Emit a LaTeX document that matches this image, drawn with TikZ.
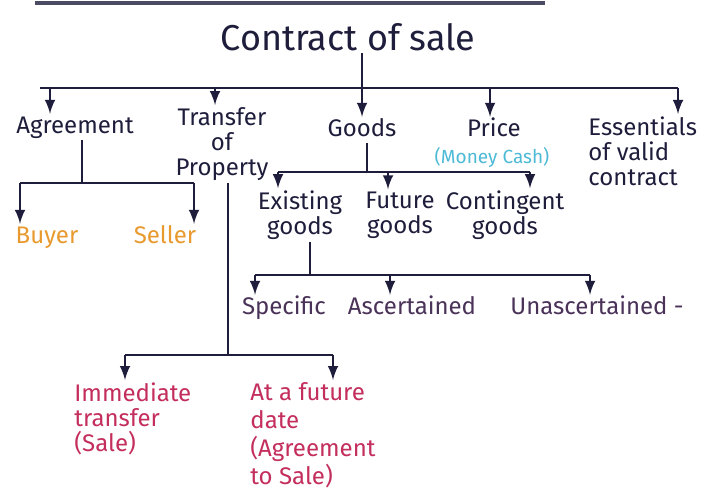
\documentclass[tikz,border=0pt]{standalone}
\usepackage{fontspec}
\setmainfont{Fira Sans}
\usepackage{xcolor}
\definecolor{ink}{HTML}{1E1E3C}
\definecolor{buyorange}{HTML}{E89A2E}
\definecolor{cashcyan}{HTML}{4DBAD6}
\definecolor{subpurple}{HTML}{4A3258}
\definecolor{salepink}{HTML}{C42E5C}

\tikzset{
  lbl/.style={align=center, inner sep=1pt, text=ink, font=\fontsize{12}{12.5}\selectfont},
  oneline/.style={text height=1.6ex, text depth=0.45ex},
  lline/.style={line width=1.4pt, draw=ink},
  larrow/.style={line width=1.4pt, draw=ink, >=latex, ->},
}

\begin{document}
\begin{tikzpicture}[x=0.5pt, y=-0.5pt]
\useasboundingbox (0,0) rectangle (704,497);
\fill[white] (0,0) rectangle (704,497);

% page edge at the top
\draw[line width=2pt, draw=ink!80] (35,3) -- (545,3);

% root
\node[lbl, font=\fontsize{18}{20}\selectfont] (cos) at (348,37) {Contract of sale};

\node[lbl, oneline] (agr) at (75,127) {Agreement};
\node[lbl] (tr) at (222,144) {Transfer\\of\\Property};
\node[lbl, oneline] (gds) at (362,130) {Goods};
\node[lbl, oneline] (prc) at (494,130) {Price};
\node[lbl, text=cashcyan, font=\fontsize{9.5}{10}\selectfont] (mny) at (492,157) {(Money Cash)};
\node[lbl, align=left, anchor=north west] (ess) at (586,114) {Essentials\\of valid\\contract};

\coordinate (a0) at (40,88);
\coordinate (a1) at (50,88);
\coordinate (t1) at (215,88);
\coordinate (c0) at (362,88);
\coordinate (p1) at (490,88);
\coordinate (e1) at (678,88);

\draw[lline] (a0) -- (e1);
\draw[larrow] (c0 |- cos.south) -- (c0 |- gds.north);
\draw[larrow] (a1) -- (a1 |- agr.north);
\draw[larrow] (t1) -- (t1 |- tr.north);
\draw[larrow] (p1) -- (p1 |- prc.north);
\draw[larrow] (e1) -- (e1 |- ess.north);

% agreement
\node[lbl, oneline, text=buyorange] (buy) at (47,237) {Buyer};
\node[lbl, oneline, text=buyorange] (sel) at (165,237) {Seller};
\coordinate (b0) at (20,183);
\coordinate (b1) at (82,183);
\coordinate (b2) at (194,183);
\draw[lline] (b1 |- agr.south) -- (b1);
\draw[lline] (b0) -- (b2);
\draw[larrow] (b0) -- (b0 |- buy.north);
\draw[larrow] (b2) -- (b2 |- sel.north);

% goods
\node[lbl] (exi) at (300,215) {Existing\\goods};
\node[lbl] (fut) at (400,215) {Future\\goods};
\node[lbl] (con) at (505,215) {Contingent\\goods};
\coordinate (f0) at (367,172);
\coordinate (f1) at (278,172);
\coordinate (f2) at (388,172);
\coordinate (f3) at (530,172);
\draw[lline] (f0 |- gds.south) -- (f0);
\draw[lline] (f1) -- (f3);
\draw[larrow] (f1) -- (f1 |- exi.north);
\draw[larrow] (f2) -- (f2 |- fut.north);
\draw[larrow] (f3) -- (f3 |- con.north);

\node[lbl, oneline, text=subpurple] (spe) at (284,308) {Specific};
\node[lbl, oneline, text=subpurple] (asc) at (412,308) {Ascertained};
\node[lbl, oneline, text=subpurple] (una) at (597,308) {Unascertained -};
\coordinate (h0) at (310,275);
\coordinate (h1) at (255,275);
\coordinate (h2) at (390,275);
\coordinate (h3) at (590,275);
\draw[lline] (h0 |- exi.south) -- (h0);
\draw[lline] (h1) -- (h3);
\draw[larrow] (h1) -- (h1 |- spe.north);
\draw[larrow] (h2) -- (h2 |- asc.north);
\draw[larrow] (h3) -- (h3 |- una.north);

% transfer of property
\node[lbl, text=salepink, align=left, anchor=north west] (imm) at (72,380) {Immediate\\transfer\\(Sale)};
\node[lbl, text=salepink, align=left, anchor=north west, font=\fontsize{12}{14}\selectfont] (atf) at (248,380) {At a future\\date\\(Agreement\\to Sale)};
\coordinate (d0) at (228,355);
\coordinate (d1) at (125,355);
\coordinate (d2) at (333,355);
\draw[lline] (d0 |- tr.south) -- (d0);
\draw[lline] (d1) -- (d2);
\draw[larrow] (d1) -- (d1 |- imm.north);
\draw[larrow] (d2) -- (d2 |- atf.north);

\end{tikzpicture}
\end{document}
